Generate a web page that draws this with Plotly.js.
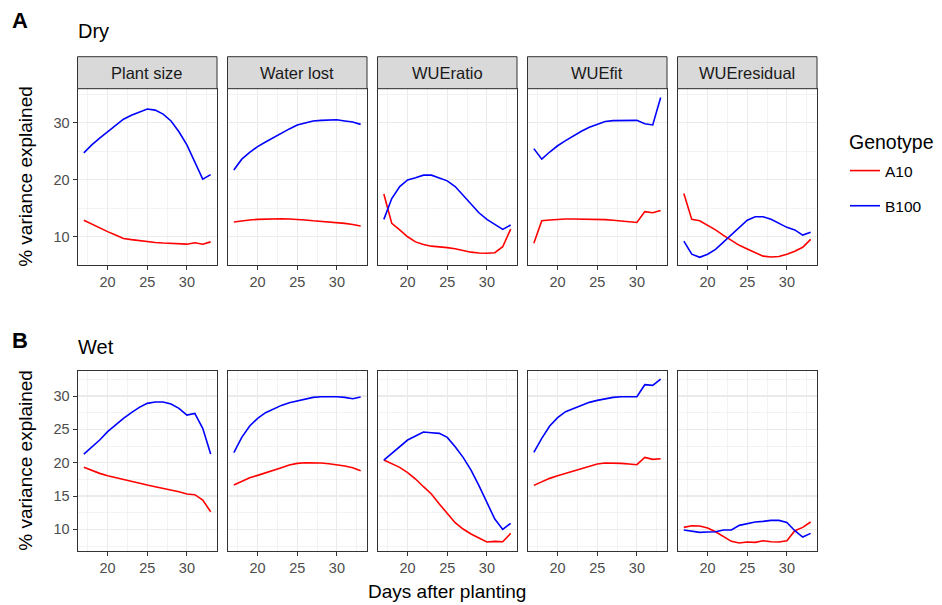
<!DOCTYPE html>
<html>
<head>
<meta charset="utf-8">
<script src="https://cdn.plot.ly/plotly-3.0.1.min.js"></script>
<style>html,body{margin:0;padding:0;background:#fff}#chart{width:942px;height:605px}</style>
</head>
<body>
<div id="chart"></div>
<script>
// ---------- data ----------
const days = [17,18,19,20,21,22,23,24,25,26,27,28,29,30,31,32,33];
const traits = ["Plant size","Water lost","WUEratio","WUEfit","WUEresidual"];
const genotypes = ["A10","B100"];
const xTicks = [20,25,30];

// Dry
const dryPlantSizeA10   = [12.9,12.2,11.5,10.9,10.3,9.7,9.5,9.3,9.1,9.0,8.9,8.85,8.8,8.7,8.95,8.7,9.1];
const dryPlantSizeB100  = [24.7,26.1,27.3,28.4,29.5,30.6,31.3,31.9,32.4,32.2,31.5,30.3,28.4,26.1,23.0,20.1,20.9];
const dryWaterLostA10   = [12.6,12.8,12.95,13.05,13.1,13.15,13.15,13.1,13.05,12.95,12.8,12.7,12.6,12.5,12.35,12.15,11.9];
const dryWaterLostB100  = [21.7,23.6,24.8,25.8,26.6,27.4,28.2,28.9,29.6,30.0,30.3,30.4,30.5,30.5,30.3,30.1,29.7];
const dryWUEratioA10    = [17.5,12.35,11.2,10.0,9.1,8.65,8.35,8.25,8.1,7.9,7.55,7.3,7.15,7.1,7.2,8.25,11.35];
const dryWUEratioB100   = [13.05,16.7,18.8,19.95,20.35,20.8,20.8,20.35,19.8,18.8,17.3,15.7,14.2,13.05,12.2,11.3,12.05];
const dryWUEfitA10      = [8.85,12.8,12.95,13.05,13.1,13.1,13.1,13.1,13.05,13.0,12.9,12.8,12.65,12.5,14.4,14.2,14.6];
const dryWUEfitB100     = [25.45,23.6,24.85,25.95,26.85,27.7,28.5,29.2,29.75,30.2,30.35,30.4,30.45,30.4,29.8,29.6,34.4];
const dryWUEresidA10    = [17.6,13.05,12.8,12.05,11.2,10.25,9.3,8.5,7.85,7.2,6.6,6.45,6.55,6.95,7.45,8.15,9.55];
const dryWUEresidB100   = [9.25,6.95,6.4,6.95,7.8,9.1,10.45,11.75,12.9,13.5,13.5,13.05,12.35,11.65,11.2,10.3,10.8];

// Wet
const wetPlantSizeA10   = [19.3,18.8,18.4,18.05,17.75,17.5,17.25,16.95,16.65,16.4,16.15,15.95,15.65,15.3,15.2,14.4,12.65];
const wetPlantSizeB100  = [21.3,22.3,23.4,24.65,25.65,26.65,27.5,28.3,28.9,29.1,29.1,28.8,28.15,27.15,27.4,25.15,21.3];
const wetWaterLostA10   = [16.65,17.25,17.75,18.1,18.45,18.9,19.25,19.65,19.9,20.0,20.0,19.95,19.85,19.7,19.5,19.25,18.8];
const wetWaterLostB100  = [21.5,23.8,25.5,26.65,27.5,28.1,28.6,29.0,29.3,29.55,29.8,29.9,29.95,29.9,29.8,29.6,29.85];
const wetWUEratioA10    = [20.4,19.9,19.3,18.5,17.55,16.4,15.3,13.8,12.4,11.0,10.05,9.3,8.7,8.1,8.2,8.15,9.4];
const wetWUEratioB100   = [20.4,21.4,22.45,23.4,24.0,24.6,24.5,24.4,23.8,22.4,20.8,18.9,16.55,14.15,11.55,10.0,10.9];
const wetWUEfitA10      = [16.6,17.15,17.65,18.05,18.4,18.8,19.15,19.5,19.8,19.95,19.95,19.9,19.8,19.7,20.8,20.5,20.6];
const wetWUEfitB100     = [21.55,23.65,25.5,26.75,27.65,28.15,28.65,29.05,29.35,29.6,29.8,29.9,29.95,29.9,31.7,31.6,32.55];
const wetWUEresidA10    = [10.3,10.55,10.5,10.2,9.65,8.9,8.2,7.95,8.1,8.05,8.3,8.15,8.1,8.3,9.8,10.3,11.1];
const wetWUEresidB100   = [9.9,9.75,9.55,9.6,9.65,9.9,9.9,10.6,10.9,11.1,11.2,11.35,11.35,11.05,9.8,8.85,9.4];

const dryA10  = [dryPlantSizeA10, dryWaterLostA10, dryWUEratioA10, dryWUEfitA10, dryWUEresidA10];
const dryB100 = [dryPlantSizeB100, dryWaterLostB100, dryWUEratioB100, dryWUEfitB100, dryWUEresidB100];
const wetA10  = [wetPlantSizeA10, wetWaterLostA10, wetWUEratioA10, wetWUEfitA10, wetWUEresidA10];
const wetB100 = [wetPlantSizeB100, wetWaterLostB100, wetWUEratioB100, wetWUEfitB100, wetWUEresidB100];

// ---------- layout geometry (pixels) ----------
const W = 942, H = 605;
const colors = {A10: "#FF0000", B100: "#0000FF"};
const FONT = "Liberation Sans, Arial, Helvetica, sans-serif";
const panelLeft0 = 77.5, panelStep = 150, panelW = 139.5;
const rowA = {top: 88.7, bottom: 265};
const rowB = {top: 370.7, bottom: 550.7};
const stripTop = 56.7;
const px = v => v / W;
const py = v => 1 - v / H;

const traces = [];
const layout = {
  width: W, height: H, autosize: false,
  margin: {l: 0, r: 0, t: 0, b: 0, pad: 0},
  paper_bgcolor: "#ffffff", plot_bgcolor: "#ffffff",
  font: {family: FONT, color: "#000000"},
  showlegend: true,
  legend: {
    x: px(845), y: py(154), xanchor: "left", yanchor: "top",
    font: {size: 15.5, color: "#000"},
    tracegroupgap: 12, bgcolor: "rgba(0,0,0,0)", borderwidth: 0
  },
  shapes: [], annotations: []
};

const gridMajor = "#EBEBEB";
function xAxisDef(i, yName) {
  const x0 = panelLeft0 + panelStep * i;
  return {
    domain: [px(x0), px(x0 + panelW)],
    range: [16.2, 33.8], anchor: yName,
    tickmode: "array", tickvals: xTicks, ticktext: xTicks.map(String),
    ticks: "outside", ticklen: 4, tickwidth: 1, tickcolor: "#333333",
    tickfont: {size: 14.5, color: "#4D4D4D", family: FONT},
    showgrid: true, gridcolor: gridMajor, gridwidth: 1.2,
    minor: {tickmode: "array", tickvals: [17.5,22.5,27.5,32.5], showgrid: true, gridcolor: gridMajor, gridwidth: 0.6},
    zeroline: false, showline: true, linecolor: "#333333", linewidth: 1, mirror: true,
    fixedrange: true
  };
}
function yAxisDef(row, range, dtick, minorTicks, showLabels, xName) {
  return {
    domain: [py(row.bottom), py(row.top)],
    range: range, anchor: xName,
    tickmode: "linear", tick0: 0, dtick: dtick,
    ticks: showLabels ? "outside" : "", ticklen: 4, tickwidth: 1, tickcolor: "#333333",
    showticklabels: showLabels,
    tickfont: {size: 14.5, color: "#4D4D4D", family: FONT},
    showgrid: true, gridcolor: gridMajor, gridwidth: 1.2,
    minor: {tickmode: "array", tickvals: minorTicks, showgrid: true, gridcolor: gridMajor, gridwidth: 0.6},
    zeroline: false, showline: true, linecolor: "#333333", linewidth: 1, mirror: true,
    fixedrange: true
  };
}

const rows = [
  {row: rowA, a10: dryA10, b100: dryB100, range: [5.05, 35.95], dtick: 10, minor: [5,15,25,35]},
  {row: rowB, a10: wetA10, b100: wetB100, range: [6.8, 33.8], dtick: 5, minor: [7.5,12.5,17.5,22.5,27.5,32.5]}
];

rows.forEach((r, ri) => {
  for (let i = 0; i < 5; i++) {
    const n = ri * 5 + i + 1;
    const xk = n === 1 ? "xaxis" : "xaxis" + n;
    const yk = n === 1 ? "yaxis" : "yaxis" + n;
    const xn = n === 1 ? "x" : "x" + n;
    const yn = n === 1 ? "y" : "y" + n;
    layout[xk] = xAxisDef(i, yn);
    layout[yk] = yAxisDef(r.row, r.range, r.dtick, r.minor, i === 0, xn);
    [["A10", r.a10[i]], ["B100", r.b100[i]]].forEach(([g, vals]) => {
      traces.push({
        type: "scatter", mode: "lines", x: days, y: vals,
        xaxis: xn, yaxis: yn, name: g, legendgroup: g,
        showlegend: n === 1,
        line: {color: colors[g], width: 1.6},
        hoverinfo: "skip"
      });
    });
  }
});

// strips (row A only)
traits.forEach((t, i) => {
  const x0 = panelLeft0 + panelStep * i;
  layout.shapes.push({
    type: "rect", xref: "paper", yref: "paper",
    x0: px(x0), x1: px(x0 + panelW), y0: py(rowA.top), y1: py(stripTop),
    fillcolor: "#D9D9D9", line: {color: "#333333", width: 1}, layer: "above"
  });
  layout.annotations.push({
    xref: "paper", yref: "paper", x: px(x0 + panelW / 2), y: py((stripTop + rowA.top) / 2),
    xanchor: "center", yanchor: "middle", showarrow: false,
    text: t, font: {size: 16.5, color: "#1A1A1A", family: FONT}
  });
});

function ann(text, x, y, opts) {
  layout.annotations.push(Object.assign({
    xref: "paper", yref: "paper", x: px(x), y: py(y), showarrow: false,
    text: text, xanchor: "left", yanchor: "middle"
  }, opts));
}
ann("<b>A</b>", 10, 20, {font: {size: 22, family: FONT, color: "#000"}});
ann("Dry", 76, 31.5, {font: {size: 20, family: FONT, color: "#000"}});
ann("<b>B</b>", 10, 340.5, {font: {size: 22, family: FONT, color: "#000"}});
ann("Wet", 76, 347, {font: {size: 20, family: FONT, color: "#000"}});
ann("Genotype", 847, 142, {font: {size: 19.5, family: FONT, color: "#000"}});
ann("% variance explained", 26, (rowA.top + rowA.bottom) / 2, {xanchor: "center", textangle: -90, font: {size: 19, family: FONT, color: "#000"}});
ann("% variance explained", 26, (rowB.top + rowB.bottom) / 2, {xanchor: "center", textangle: -90, font: {size: 19, family: FONT, color: "#000"}});
ann("Days after planting", (panelLeft0 + panelLeft0 + panelStep * 4 + panelW) / 2, 591, {xanchor: "center", font: {size: 19, family: FONT, color: "#000"}});

Plotly.newPlot("chart", traces, layout, {staticPlot: true, displayModeBar: false});
</script>
</body>
</html>
